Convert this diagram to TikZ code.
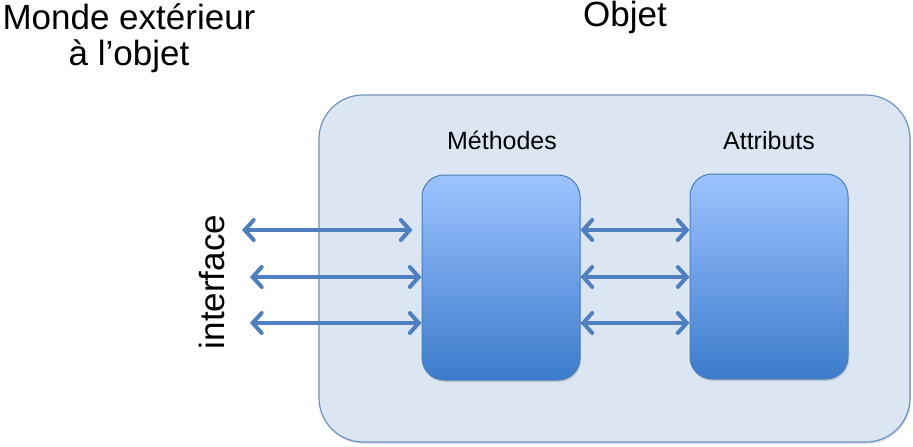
\documentclass[tikz,border=0pt]{standalone}
\usepackage{fontspec}
\setmainfont{Liberation Sans}
\usetikzlibrary{arrows.meta,shadows}
\definecolor{objfill}{HTML}{DCE6F2}
\definecolor{objdraw}{HTML}{6E93C2}
\definecolor{boxtop}{HTML}{9DC3FF}
\definecolor{boxbot}{HTML}{3C7BCC}
\definecolor{boxdraw}{HTML}{4A7EBB}
\definecolor{arrowc}{HTML}{4F7FBF}
\tikzset{
  bigtext/.style={font=\fontsize{35}{36}\selectfont, inner sep=0pt},
  smalltext/.style={font=\fontsize{25}{26}\selectfont, inner sep=0pt},
  objbox/.style={draw=objdraw, fill=objfill, line width=1.2pt, rounded corners=44pt,
     drop shadow={shadow xshift=1pt, shadow yshift=-2pt, opacity=0.25}},
  partbox/.style={draw=boxdraw, line width=1pt, rounded corners=22pt, top color=boxtop, bottom color=boxbot,
     minimum width=158pt, minimum height=205pt, inner sep=0pt,
     drop shadow={shadow xshift=1pt, shadow yshift=-2pt, opacity=0.3}},
  link/.style={draw=arrowc, line width=4pt, {Straight Barb[length=9pt, width=20pt, line cap=round]}-{Straight Barb[length=9pt, width=20pt, line cap=round]}}
}
\begin{document}
\begin{tikzpicture}[x=1pt, y=-1pt]
\useasboundingbox (0,0) rectangle (913,447);
\path[objbox] (319,95) rectangle (910,442);
\node[partbox] (M) at (501,277.5) {};
\node[partbox] (A) at (769,276.5) {};
\node[bigtext, align=center, anchor=base] (monde) at (129,65) {Monde extérieur\\à l’objet};
\node[bigtext, anchor=base] (objet) at (625,27) {Objet};
\node[smalltext, anchor=base] (meth) at (502,149) {Méthodes};
\node[smalltext, anchor=base] (attr) at (769,149) {Attributs};
\node[bigtext, anchor=base, rotate=90] (iface) at (224,282) {interface};
\coordinate (L1) at (242,230);
\coordinate (L2) at (250,277);
\coordinate (L3) at (250,323);
\draw[link, shorten >=9pt] (L1) -- (L1 -| M.west);
\draw[link] (L2) -- (L2 -| M.west);
\draw[link] (L3) -- (L3 -| M.west);
\draw[link] (M.east |- L1) -- (A.west |- L1);
\draw[link] (M.east |- L2) -- (A.west |- L2);
\draw[link] (M.east |- L3) -- (A.west |- L3);
\end{tikzpicture}
\end{document}
